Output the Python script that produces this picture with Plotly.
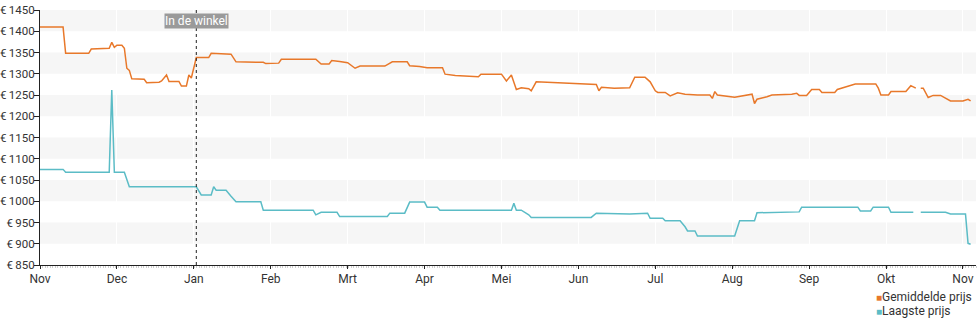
import calendar
from datetime import date

import plotly.graph_objects as go

# Price history, Nov 2023 - Nov 2024 (euro)
avg_dates = [
    "2023-11-01", "2023-11-10", "2023-11-11", "2023-11-20", "2023-11-21", "2023-11-28",
    "2023-11-29", "2023-11-30", "2023-12-01", "2023-12-03", "2023-12-04", "2023-12-05",
    "2023-12-06", "2023-12-07", "2023-12-12", "2023-12-13", "2023-12-18", "2023-12-19",
    "2023-12-21", "2023-12-22", "2023-12-26", "2023-12-27", "2023-12-29", "2023-12-30",
    "2023-12-31", "2024-01-02", "2024-01-07", "2024-01-08", "2024-01-16", "2024-01-18",
    "2024-01-29", "2024-01-30", "2024-02-04", "2024-02-05", "2024-02-18", "2024-02-20",
    "2024-02-23", "2024-02-24", "2024-02-27", "2024-03-01", "2024-03-04", "2024-03-06",
    "2024-03-16", "2024-03-19", "2024-03-25", "2024-03-26", "2024-03-30", "2024-04-02",
    "2024-04-08", "2024-04-09", "2024-04-13", "2024-04-22", "2024-04-23", "2024-05-01",
    "2024-05-03", "2024-05-05", "2024-05-07", "2024-05-09", "2024-05-12", "2024-05-13",
    "2024-05-15", "2024-05-24", "2024-06-08", "2024-06-09", "2024-06-10", "2024-06-15",
    "2024-06-21", "2024-06-23", "2024-06-27", "2024-06-29", "2024-07-01", "2024-07-02",
    "2024-07-05", "2024-07-07", "2024-07-10", "2024-07-13", "2024-07-18", "2024-07-23",
    "2024-07-24", "2024-07-25", "2024-07-26", "2024-08-02", "2024-08-09", "2024-08-10",
    "2024-08-11", "2024-08-15", "2024-08-17", "2024-08-25", "2024-08-27", "2024-08-28",
    "2024-08-31", "2024-09-02", "2024-09-05", "2024-09-06", "2024-09-11", "2024-09-12",
    "2024-09-15", "2024-09-19", "2024-09-27", "2024-09-28", "2024-09-29", "2024-10-02",
    "2024-10-03", "2024-10-09", "2024-10-11", "2024-10-13", "2024-10-14", "2024-10-15",
    "2024-10-16", "2024-10-18", "2024-10-20", "2024-10-23", "2024-10-27", "2024-11-01",
    "2024-11-03", "2024-11-04",
]
avg_price = [
    1410, 1410, 1348, 1348, 1358, 1360,
    1374, 1362, 1367, 1367, 1360, 1313,
    1308, 1288, 1287, 1279, 1280, 1283,
    1297, 1282, 1282, 1271, 1271, 1297,
    1290, 1338, 1338, 1348, 1346, 1328,
    1327, 1324, 1325, 1334, 1334, 1323,
    1323, 1331, 1329, 1326, 1313, 1318,
    1318, 1328, 1328, 1319, 1317, 1314,
    1314, 1299, 1296, 1293, 1299, 1299,
    1283, 1297, 1263, 1267, 1265, 1260,
    1281, 1279, 1275, 1260, 1268, 1266,
    1267, 1292, 1292, 1281, 1260, 1256,
    1256, 1248, 1255, 1252, 1250, 1250,
    1242, 1258, 1250, 1245, 1252, 1230,
    1240, 1246, 1250, 1252, 1254, 1249,
    1249, 1263, 1263, 1256, 1256, 1263,
    1268, 1276, 1276, 1266, 1250, 1250,
    1258, 1258, 1272, 1266, None, 1266,
    1266, 1244, 1249, 1249, 1236, 1236,
    1240, 1236,
]

low_dates = [
    "2023-11-01", "2023-11-10", "2023-11-11", "2023-11-28", "2023-11-29", "2023-11-30",
    "2023-12-04", "2023-12-06", "2024-01-02", "2024-01-04", "2024-01-08", "2024-01-09",
    "2024-01-10", "2024-01-14", "2024-01-16", "2024-01-18", "2024-01-28", "2024-01-29",
    "2024-02-17", "2024-02-18", "2024-02-20", "2024-02-26", "2024-02-27", "2024-03-17",
    "2024-03-18", "2024-03-24", "2024-03-26", "2024-04-01", "2024-04-02", "2024-04-06",
    "2024-04-07", "2024-05-05", "2024-05-06", "2024-05-07", "2024-05-09", "2024-05-12",
    "2024-05-13", "2024-06-06", "2024-06-08", "2024-06-21", "2024-06-28", "2024-06-29",
    "2024-07-04", "2024-07-05", "2024-07-11", "2024-07-13", "2024-07-14", "2024-07-17",
    "2024-07-18", "2024-08-02", "2024-08-04", "2024-08-10", "2024-08-11", "2024-08-28",
    "2024-08-29", "2024-09-20", "2024-09-21", "2024-09-25", "2024-09-26", "2024-10-02",
    "2024-10-03", "2024-10-12", "2024-10-14", "2024-10-15", "2024-10-25", "2024-10-27",
    "2024-11-02", "2024-11-03", "2024-11-04",
]
low_price = [
    1075, 1075, 1068, 1068, 1262, 1068,
    1068, 1034, 1034, 1015, 1015, 1034,
    1026, 1026, 1012, 999, 999, 979,
    979, 968, 974, 974, 964, 964,
    972, 972, 998, 998, 986, 986,
    979, 979, 995, 979, 979, 968,
    962, 962, 972, 970, 972, 960,
    960, 954, 954, 940, 930, 930,
    918, 918, 954, 954, 973, 975,
    986, 986, 977, 977, 986, 986,
    974, 974, None, 974, 974, 970,
    970, 901, 899,
]

month_labels = ["Nov", "Dec", "Jan", "Feb", "Mrt", "Apr", "Mei",
                "Jun", "Jul", "Aug", "Sep", "Okt", "Nov"]
start_year, start_month = 2023, 11
store_date = "2024-01-02"

AVG_COLOR = "#e8782a"
LOW_COLOR = "#5bbcc6"
BAND_COLOR = "#f6f6f6"


def month_pos(d):
    """Position on the month axis: every month gets the same width."""
    dt = date.fromisoformat(d)
    idx = (dt.year - start_year) * 12 + dt.month - start_month
    days = calendar.monthrange(dt.year, dt.month)[1]
    return idx + (dt.day - 1) / days


fig = go.Figure()
fig.add_trace(go.Scatter(
    x=[month_pos(d) for d in avg_dates], y=avg_price, mode="lines",
    line=dict(color=AVG_COLOR, width=1.5), connectgaps=False,
    name="Gemiddelde prijs", showlegend=False,
))
fig.add_trace(go.Scatter(
    x=[month_pos(d) for d in low_dates], y=low_price, mode="lines",
    line=dict(color=LOW_COLOR, width=1.5), connectgaps=False,
    name="Laagste prijs", showlegend=False,
))

# alternating horizontal bands
for lo in range(900, 1450, 100):
    fig.add_shape(type="rect", xref="paper", yref="y", x0=0, x1=1, y0=lo, y1=lo + 50,
                  fillcolor=BAND_COLOR, line_width=0, layer="below")

# store launch marker
sx = month_pos(store_date)
fig.add_shape(type="line", xref="x", yref="paper", x0=sx, x1=sx, y0=0, y1=1,
              line=dict(color="#222", width=1, dash="dot"))
fig.add_annotation(x=sx, xref="x", y=0.957, yref="paper", text="In de winkel",
                   showarrow=False, font=dict(color="white", size=12),
                   bgcolor="#9a9a9a", borderpad=0, xanchor="center", yanchor="middle")

# legend
for i, (label, color) in enumerate([("Gemiddelde prijs", AVG_COLOR),
                                    ("Laagste prijs", LOW_COLOR)]):
    fig.add_annotation(
        x=0.891, xref="paper", y=-0.125 - i * 0.055, yref="paper",
        text=f'<span style="color:{color};font-size:10px">■</span>{label}',
        showarrow=False, xanchor="left", yanchor="middle",
        font=dict(size=12, color="#333"),
    )

fig.update_layout(
    width=980, height=325,
    margin=dict(l=40, r=4, t=10, b=60, autoexpand=False),
    paper_bgcolor="white", plot_bgcolor="white",
    font=dict(family="Roboto", size=12, color="#333"),
    showlegend=False,
)
fig.update_xaxes(
    range=[0, 12.17], tickmode="array", tickvals=list(range(13)), ticktext=month_labels,
    showline=True, linecolor="#222", linewidth=1, ticks="outside", ticklen=3,
    tickcolor="#222", showgrid=True, gridcolor="#ffffff", zeroline=False,
    automargin=False,
    minor=dict(ticks="outside", ticklen=2, dtick=1 / 30.4, tickcolor="#cfcfcf", showgrid=False),
)
fig.update_yaxes(
    range=[850, 1450], dtick=50, tickprefix="€\u2009", showline=True, linecolor="#222",
    linewidth=1, ticks="outside", ticklen=5, tickcolor="#222", showgrid=False,
    zeroline=False, automargin=False, tickfont=dict(size=11.5), ticklabelstandoff=-3,
)

fig.write_html("out.html")
